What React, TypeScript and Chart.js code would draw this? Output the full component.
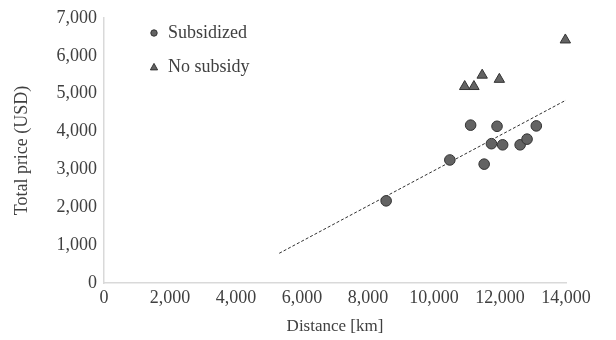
import React, { useEffect, useRef } from "react";
import { Chart, registerables } from "chart.js";

Chart.register(...registerables);

const subsidizedDistance = [8550, 10480, 11110, 11520, 11740, 11910, 12080, 12610, 12820, 13100];
const subsidizedPrice = [2170, 3250, 4170, 3140, 3680, 4140, 3650, 3650, 3800, 4150];
const noSubsidyDistance = [10930, 11210, 11460, 11980, 13980];
const noSubsidyPrice = [5190, 5190, 5490, 5380, 6420];
const trendDistance = [5310, 14000];
const trendPrice = [785, 4830];

const seriesLabels = ["Subsidized", "No subsidy"];
const xTitle = "Distance [km]";
const yTitle = "Total price (USD)";

const FONT = "'Liberation Serif', 'Times New Roman', serif";
const TEXT = "#404040";
const MARK_FILL = "#636363";
const MARK_EDGE = "#333333";

const toPoints = (xs: number[], ys: number[]) => xs.map((x, i) => ({ x, y: ys[i] }));

const legendPlugin = {
  id: "insideLegend",
  afterDraw(chart: any) {
    const { ctx, chartArea } = chart;
    const items = chart.data.datasets.filter((d: any) => d.inLegend);
    ctx.save();
    ctx.font = `18px ${FONT}`;
    ctx.textBaseline = "middle";
    items.forEach((d: any, i: number) => {
      const mx = chartArea.left + 50;
      const my = chartArea.top + 15 + i * 34;
      ctx.fillStyle = MARK_FILL;
      ctx.strokeStyle = MARK_EDGE;
      ctx.lineWidth = 1;
      ctx.beginPath();
      if (d.pointStyle === "triangle") {
        const r = 3.6;
        ctx.moveTo(mx, my - r);
        ctx.lineTo(mx + r, my + r * 0.8);
        ctx.lineTo(mx - r, my + r * 0.8);
        ctx.closePath();
      } else {
        ctx.arc(mx, my, 3.2, 0, Math.PI * 2);
      }
      ctx.fill();
      ctx.stroke();
      ctx.fillStyle = TEXT;
      ctx.textAlign = "left";
      ctx.fillText(d.label, mx + 14, my);
    });
    ctx.restore();
  },
};

export default function App() {
  const ref = useRef<HTMLCanvasElement | null>(null);

  useEffect(() => {
    document.body.style.margin = "0";
    if (!ref.current) return;
    const chart = new Chart(ref.current, {
      type: "scatter",
      data: {
        datasets: [
          {
            label: seriesLabels[0],
            data: toPoints(subsidizedDistance, subsidizedPrice),
            pointStyle: "circle",
            pointRadius: 5.3,
            backgroundColor: MARK_FILL,
            borderColor: MARK_EDGE,
            borderWidth: 1,
            inLegend: true,
            clip: false,
            order: 1,
          } as any,
          {
            label: seriesLabels[1],
            data: toPoints(noSubsidyDistance, noSubsidyPrice),
            pointStyle: "triangle",
            pointRadius: 6,
            backgroundColor: MARK_FILL,
            borderColor: MARK_EDGE,
            borderWidth: 1,
            inLegend: true,
            clip: false,
            order: 1,
          } as any,
          {
            type: "line",
            label: "Trend",
            data: toPoints(trendDistance, trendPrice),
            borderColor: "#303030",
            borderWidth: 1,
            borderDash: [3, 2],
            pointRadius: 0,
            fill: false,
            showLine: true,
            order: 2,
          } as any,
        ],
      },
      options: {
        responsive: false,
        animation: false,
        layout: { padding: { left: 0, top: 18, right: 50, bottom: 0 } },
        plugins: {
          legend: { display: false },
          tooltip: { enabled: false },
        },
        scales: {
          x: {
            type: "linear",
            min: 0,
            max: 14000,
            grid: { display: false, drawTicks: false, tickLength: 0 },
            border: { display: true, color: "#d9d9d9", width: 1.5 },
            ticks: {
              stepSize: 2000,
              padding: 4,
              color: TEXT,
              font: { family: FONT, size: 18 },
              maxRotation: 0,
              callback: (v: any) => Number(v).toLocaleString("en-US"),
            },
            title: {
              display: true,
              text: xTitle,
              color: TEXT,
              font: { family: FONT, size: 17 },
              padding: { top: 6, bottom: 3 },
            },
            afterFit: (s: any) => {
              s.height = 57;
            },
          },
          y: {
            type: "linear",
            min: 0,
            max: 7000,
            grid: { display: false, drawTicks: false, tickLength: 0 },
            border: { display: true, color: "#d9d9d9", width: 1.5 },
            ticks: {
              stepSize: 1000,
              padding: 7,
              color: TEXT,
              font: { family: FONT, size: 18 },
              callback: (v: any) => Number(v).toLocaleString("en-US"),
            },
            title: {
              display: true,
              text: yTitle,
              color: TEXT,
              font: { family: FONT, size: 18 },
              padding: { top: 11, bottom: 2 },
            },
            afterFit: (s: any) => {
              s.width = 104;
            },
          },
        },
      },
      plugins: [legendPlugin],
    });
    return () => chart.destroy();
  }, []);

  return (
    <div style={{ width: 616, height: 340 }}>
      <canvas ref={ref} width={616} height={340} />
    </div>
  );
}
